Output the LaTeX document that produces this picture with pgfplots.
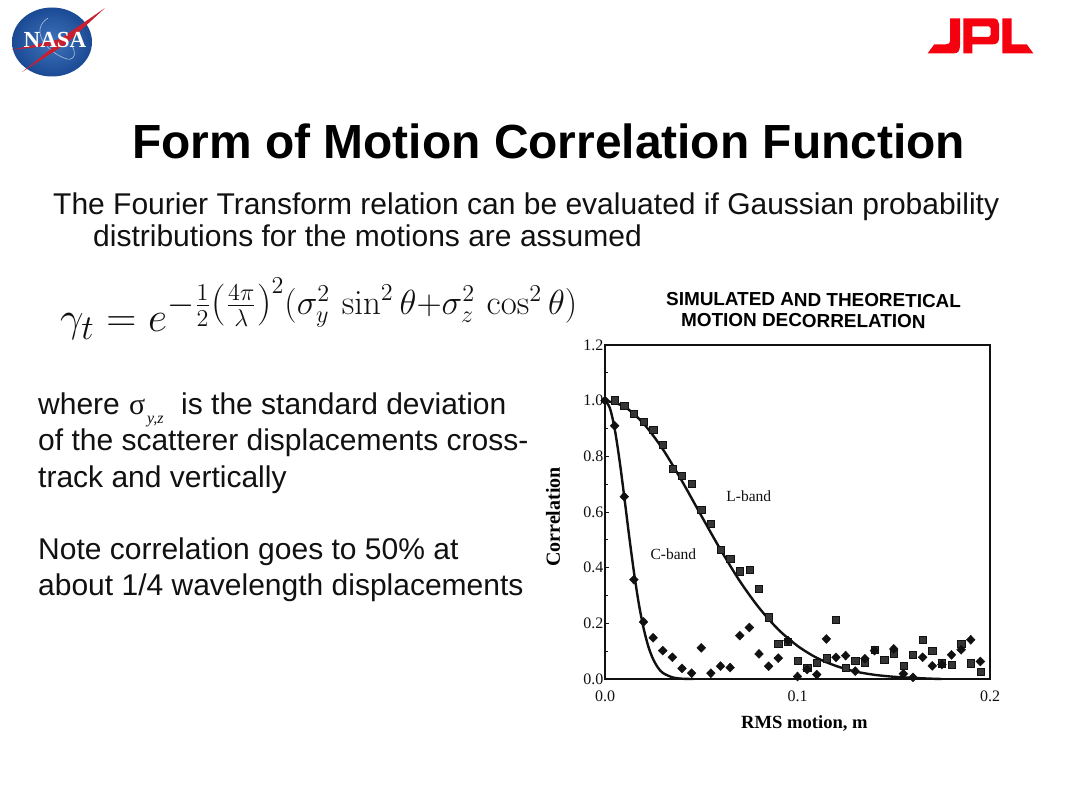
\documentclass[border=0pt]{standalone}
\usepackage{amsmath}
\usepackage[no-math]{fontspec}
\usepackage{graphicx}
\usepackage{pgfplots}
\pgfplotsset{compat=1.18}
\setmainfont{Liberation Sans}
\newfontfamily\tms{Liberation Serif}
\DeclareMathSizes{20.74}{20.74}{17.28}{12}
\definecolor{jplred}{HTML}{F5000F}
\definecolor{nasablueA}{HTML}{3F74BC}
\definecolor{nasablueB}{HTML}{1B4A94}
\definecolor{nasared}{HTML}{C8202F}
\definecolor{inkk}{HTML}{111111}
\pgfplotstableread{
x y
0.005 1.002
0.010 0.981
0.015 0.952
0.020 0.924
0.025 0.895
0.030 0.841
0.035 0.755
0.040 0.730
0.045 0.701
0.050 0.609
0.055 0.557
0.060 0.465
0.065 0.432
0.070 0.387
0.075 0.392
0.080 0.325
0.085 0.222
0.090 0.126
0.095 0.133
0.100 0.066
0.105 0.042
0.110 0.060
0.115 0.075
0.120 0.213
0.125 0.040
0.130 0.066
0.135 0.060
0.140 0.106
0.145 0.069
0.150 0.093
0.155 0.047
0.160 0.088
0.165 0.141
0.170 0.102
0.175 0.057
0.180 0.052
0.185 0.126
0.190 0.057
0.195 0.027
}\lband
\pgfplotstableread{
x y
0.000 1.000
0.005 0.910
0.010 0.655
0.015 0.357
0.020 0.205
0.025 0.148
0.030 0.102
0.035 0.078
0.040 0.038
0.045 0.021
0.050 0.112
0.055 0.021
0.060 0.046
0.065 0.041
0.070 0.156
0.075 0.185
0.080 0.090
0.085 0.046
0.090 0.075
0.095 0.138
0.100 0.009
0.105 0.034
0.110 0.016
0.115 0.144
0.120 0.078
0.125 0.084
0.130 0.028
0.135 0.073
0.140 0.102
0.150 0.108
0.155 0.019
0.160 0.006
0.165 0.078
0.170 0.047
0.175 0.052
0.180 0.087
0.185 0.105
0.190 0.141
0.195 0.063
}\cband
\pgfplotstableread{
x y
0.000 1.000
0.010 0.979
0.020 0.918
0.030 0.826
0.040 0.711
0.050 0.587
0.060 0.465
0.070 0.352
0.080 0.256
0.090 0.178
0.100 0.119
0.110 0.076
0.120 0.047
0.130 0.027
0.140 0.015
0.150 0.008
0.160 0.004
0.170 0.001
0.175 0.000
}\lcurve
\pgfplotstableread{
x y
0.0000 1.000
0.0025 0.974
0.0050 0.900
0.0075 0.788
0.0100 0.655
0.0125 0.516
0.0150 0.386
0.0175 0.273
0.0200 0.184
0.0225 0.117
0.0250 0.071
0.0275 0.041
0.0300 0.022
0.0350 0.006
0.0400 0.001
0.0460 0.000
}\ccurve
\begin{document}
\begin{tikzpicture}[x=1pt,y=1pt]
\useasboundingbox (0,0) rectangle (1080,-810);
\fill[white] (0,0) rectangle (1080,-810);
% NASA logo
\shade[inner color=nasablueA,outer color=nasablueB] (52,-42) ellipse [x radius=40, y radius=34.5];
\draw[white!65!nasablueB,line width=0.6] (48,-18) .. controls (30,-30) and (45,-50) .. (64,-58) .. controls (72,-62) and (78,-56) .. (72,-46);
\fill[nasared] (11,-50) -- (60,-39) -- (105,-8) -- (66,-44) -- (22,-72) -- (56,-45) -- cycle;
\node[text=white,font=\fontsize{23}{23}\selectfont\tms\bfseries,anchor=center] at (55,-40) {NASA};
% JPL logo
\fill[jplred] (950,-18.3) -- (960,-18.3) -- (960,-45) .. controls (960,-51) and (958,-53.3) .. (954,-53.3) -- (927.7,-53.3) -- (934.3,-44.3) -- (946,-44.3) .. controls (949,-44.3) and (950,-43) .. (950,-41) -- cycle;
\fill[jplred,even odd rule] (963.3,-18.3) -- (993,-18.3) .. controls (997,-18.3) and (999,-21) .. (999,-24) -- (999,-38) .. controls (999,-42) and (997,-44.3) .. (993,-44.3) -- (972.3,-44.3) -- (972.3,-53.3) -- (963.3,-53.3) -- cycle
 (972.3,-26.5) -- (989,-26.5) -- (990.5,-28) -- (990.5,-35) -- (989,-37) -- (972.3,-37) -- cycle;
\fill[jplred] (1002.3,-18.3) -- (1011.7,-18.3) -- (1011.7,-44.3) -- (1026.7,-44.3) -- (1033.3,-53.3) -- (1002.3,-53.3) -- cycle;
% Title and text
\node[anchor=base west,inner sep=0,font=\fontsize{47.9}{47.9}\selectfont\bfseries] at (132,-159) {Form of Motion Correlation Function};
\node[anchor=base west,inner sep=0,font=\fontsize{30}{30}\selectfont,text=inkk] at (53,-215) {The Fourier Transform relation can be evaluated if Gaussian probability};
\node[anchor=base west,inner sep=0,font=\fontsize{30}{30}\selectfont,text=inkk] at (93,-247) {distributions for the motions are assumed};
\node[anchor=base west,inner sep=0,text=inkk] at (60,-332) {\resizebox{518pt}{!}{\fontsize{20.74}{24}\selectfont$\gamma_t = e^{-\frac{1}{2}\left(\frac{4\pi}{\lambda}\right)^{2}(\sigma_y^2\,\sin^2\theta+\sigma_z^2\,\cos^2\theta)}$}};
\begin{scope}[every node/.style={anchor=base west,inner sep=0,font=\fontsize{30}{30}\selectfont,text=inkk}]
\node at (38,-415) {where};
\node at (129,-415) {\tms σ};
\node[font=\fontsize{16}{16}\selectfont\tms\itshape] at (147,-424) {y,z};
\node at (181,-415) {is the standard deviation};
\node at (38,-451) {of the scatterer displacements cross-};
\node at (38,-487) {track and vertically};
\node at (38,-559) {Note correlation goes to 50\% at};
\node at (38,-595) {about 1/4 wavelength displacements};
\end{scope}
\node[anchor=base west,inner sep=0,font=\fontsize{18.9}{18.9}\selectfont\bfseries,rotate=-0.5] at (666,-305) {SIMULATED AND THEORETICAL};
\node[anchor=base west,inner sep=0,font=\fontsize{18.9}{18.9}\selectfont\bfseries,rotate=-0.5] at (681,-326) {MOTION DECORRELATION};
\begin{axis}[
  at={(605pt,-679pt)},anchor=south west,
  scale only axis,width=385pt,height=334pt,
  xmin=0,xmax=0.2,ymin=0,ymax=1.2,
  axis line style={line width=1.7pt,color=inkk},
  xtick={0,0.1,0.2},
  xticklabels={0.0,0.1,0.2},
  ytick={0,0.2,0.4,0.6,0.8,1.0,1.2},
  yticklabels={0.0,0.2,0.4,0.6,0.8,1.0,1.2},
  minor ytick={0.1,0.3,0.5,0.7,0.9,1.1},
  tick style={line width=1pt,color=inkk},
  major tick length=4pt,minor tick length=3pt,
  xtick pos=bottom,ytick pos=left,
  tick align=inside,
  ticklabel style={font=\fontsize{16}{16}\selectfont\tms,text=inkk},
  yticklabel style={xshift=2pt},
  xticklabel style={yshift=-8pt},
  clip=false,
  xlabel={\fontsize{18.6}{18.6}\selectfont\tms\bfseries RMS motion, m},
  ylabel={\fontsize{20}{20}\selectfont\tms\bfseries Correlation},
  xlabel style={at={(axis description cs:0.518,-0.132)},anchor=center,inner sep=0pt},
  ylabel style={at={(axis description cs:-0.135,0.485)},anchor=center,inner sep=0pt},
]
\addplot[line width=2.4pt,color=inkk,smooth] table {\lcurve};
\addplot[line width=2.4pt,color=inkk,smooth] table {\ccurve};
\addplot[only marks,mark=square*,mark size=3.6pt,mark options={draw=inkk,fill=inkk!85!white}] table {\lband};
\addplot[only marks,mark=diamond*,mark size=4.5pt,mark options={xscale=1.3,draw=inkk,fill=inkk}] table {\cband};
\node[font=\fontsize{15.5}{15.5}\selectfont\tms,text=inkk] at (axis cs:0.0747,0.657) {L-band};
\node[font=\fontsize{15.5}{15.5}\selectfont\tms,text=inkk] at (axis cs:0.0355,0.449) {C-band};
\end{axis}
\end{tikzpicture}
\end{document}
